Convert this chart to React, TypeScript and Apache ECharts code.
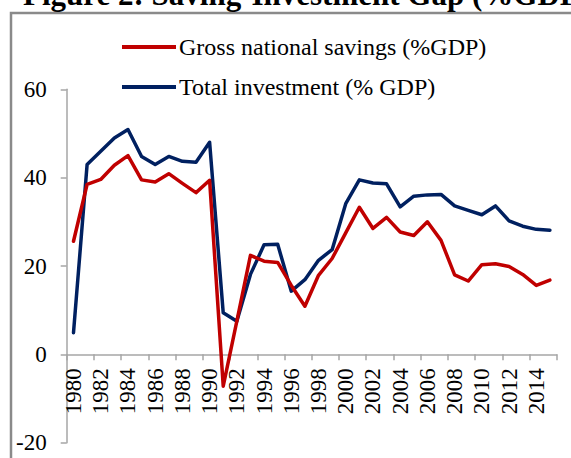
import React, { useEffect, useRef } from "react";
import * as echarts from "echarts";

const years = [
  "1980", "1981", "1982", "1983", "1984", "1985", "1986", "1987", "1988", "1989",
  "1990", "1991", "1992", "1993", "1994", "1995", "1996", "1997", "1998", "1999",
  "2000", "2001", "2002", "2003", "2004", "2005", "2006", "2007", "2008", "2009",
  "2010", "2011", "2012", "2013", "2014", "2015",
];

const savings = [
  25.6, 38.5, 39.6, 42.8, 45.0, 39.5, 39.0, 40.9, 38.7, 36.6,
  39.4, -7.2, 7.5, 22.4, 21.1, 20.8, 15.6, 10.9, 17.9, 21.7,
  27.5, 33.3, 28.5, 31.0, 27.7, 26.9, 30.0, 25.8, 18.0, 16.6,
  20.3, 20.5, 19.9, 18.1, 15.6, 16.8,
];

const investment = [
  4.9, 43.0, 46.0, 49.0, 50.9, 44.8, 43.0, 44.8, 43.7, 43.5,
  48.0, 9.4, 7.5, 18.1, 24.8, 24.9, 14.3, 16.9, 21.3, 23.7,
  34.1, 39.5, 38.8, 38.6, 33.4, 35.8, 36.1, 36.2, 33.6, 32.6,
  31.6, 33.6, 30.2, 29.0, 28.3, 28.1,
];

const yMin = -20;
const yMax = 60;
const yStep = 20;

const FONT = "'Liberation Serif', 'Times New Roman', serif";

const GRID_TOP = 89.3;
const GRID_BOTTOM = 15.3;
const CHART_H = 458;
// place the category axis on the value 0 (ECharts measures offset from the grid's bottom edge)
const plotH = CHART_H - GRID_TOP - GRID_BOTTOM;
const zeroOffset = -plotH * ((0 - yMin) / (yMax - yMin));

export default function App() {
  const ref = useRef<HTMLDivElement>(null);

  useEffect(() => {
    if (!ref.current) return;
    const chart = echarts.init(ref.current, null, { renderer: "svg" });
    chart.setOption({
      animation: false,
      backgroundColor: "#ffffff",
      textStyle: { fontFamily: FONT },
      graphic: [
        {
          type: "rect",
          shape: { x: 11, y: 13, width: 620, height: 520 },
          style: { fill: "none", stroke: "#8a8a8a", lineWidth: 2.5 },
          silent: true,
        },
        {
          type: "text",
          x: 23,
          y: -6,
          style: {
            text: "Figure 2: Saving-Investment Gap (%GDP)",
            font: "bold 31px " + FONT,
            fill: "#000",
            verticalAlign: "middle",
            align: "left",
          },
          silent: true,
        },
      ],
      legend: {
        orient: "vertical",
        left: 117,
        top: 30,
        itemWidth: 54,
        itemHeight: 4,
        itemGap: 16,
        icon: "rect",
        textStyle: { fontFamily: FONT, fontSize: 24, color: "#000", padding: [0, 0, 0, -2] },
        data: [
          { name: "Gross national savings (%GDP)" },
          { name: "Total investment (% GDP)" },
        ],
      },
      grid: {
        left: 66.7,
        right: 14.3,
        top: GRID_TOP,
        bottom: GRID_BOTTOM,
        containLabel: false,
        outerBoundsMode: "none",
      },
      xAxis: {
        type: "category",
        data: years,
        boundaryGap: true,
        offset: zeroOffset,
        axisLine: { onZero: false, lineStyle: { color: "#a6a6a6", width: 1.5 } },
        axisTick: { show: true, length: 6, inside: false, lineStyle: { color: "#a6a6a6", width: 1.5 } },
        axisLabel: {
          interval: 1,
          rotate: 90,
          margin: 14,
          fontFamily: FONT,
          fontSize: 23,
          color: "#000",
        },
        splitLine: { show: false },
      },
      yAxis: {
        type: "value",
        min: yMin,
        max: yMax,
        interval: yStep,
        axisLine: { show: true, lineStyle: { color: "#a6a6a6", width: 1.5 } },
        axisTick: { show: true, length: 6, lineStyle: { color: "#a6a6a6", width: 1.5 } },
        axisLabel: { margin: 20, fontFamily: FONT, fontSize: 23, color: "#000" },
        splitLine: { show: false },
      },
      series: [
        {
          name: "Gross national savings (%GDP)",
          type: "line",
          data: savings,
          showSymbol: false,
          symbol: "none",
          color: "#c00000",
          lineStyle: { color: "#c00000", width: 3.5, join: "round", cap: "round" },
          z: 3,
        },
        {
          name: "Total investment (% GDP)",
          type: "line",
          data: investment,
          showSymbol: false,
          symbol: "none",
          color: "#002060",
          lineStyle: { color: "#002060", width: 3.5, join: "round", cap: "round" },
          z: 2,
        },
      ],
    });
    return () => chart.dispose();
  }, []);

  return (
    <div
      ref={ref}
      style={{ position: "absolute", left: 0, top: 0, width: 571, height: 458 }}
    />
  );
}
